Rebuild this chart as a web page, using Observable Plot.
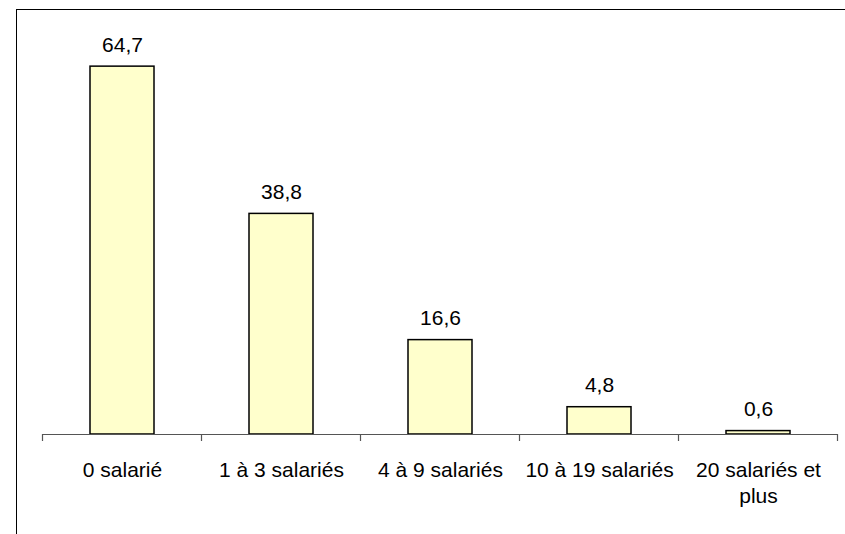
<!DOCTYPE html>
<html>
<head>
<meta charset="utf-8">
<script src="https://cdn.jsdelivr.net/npm/d3@7"></script>
<script src="https://cdn.jsdelivr.net/npm/@observablehq/plot@0.6"></script>
<style>
  html, body { margin: 0; padding: 0; background: #fff; overflow: hidden; }
  #wrap { position: relative; width: 845px; height: 534px; }
  #frame { position: absolute; left: 16px; top: 9px; width: 900px; height: 600px;
           border-left: 1.5px solid #000; border-top: 1.5px solid #000; box-sizing: border-box; }
  #chart { position: absolute; left: 0; top: 0; }
</style>
</head>
<body>
<div id="wrap"><div id="frame"></div><div id="chart"></div></div>
<script>
const categories = ["0 salarié", "1 à 3 salariés", "4 à 9 salariés", "10 à 19 salariés", "20 salariés et plus"];
const axisLabels = ["0 salarié", "1 à 3 salariés", "4 à 9 salariés", "10 à 19 salariés", "20 salariés et\nplus"];
const values = [64.7, 38.8, 16.6, 4.8, 0.6];
const valueLabels = ["64,7", "38,8", "16,6", "4,8", "0,6"];

const data = categories.map((c, i) => ({cat: c, value: values[i], label: valueLabels[i], axis: axisLabels[i]}));

const font = "Liberation Sans, Arial, sans-serif";

const boundaryTicks = (index, scales, values, dimensions) => {
  const x = scales.x;
  const step = x.step ? x.step() : (x.bandwidth() / 0.4);
  const bw = x.bandwidth();
  const gap = (step - bw) / 2;
  const y0 = dimensions.height - dimensions.marginBottom;
  const g = d3.create("svg:g");
  const xs = categories.map(c => x(c) - gap);
  xs.push(x(categories[categories.length - 1]) + bw + gap);
  for (const xv of xs) {
    g.append("line").attr("x1", xv).attr("x2", xv).attr("y1", y0).attr("y2", y0 + 7)
      .attr("stroke", "#555").attr("stroke-width", 1.2);
  }
  return g.node();
};

const chart = Plot.plot({
  width: 845,
  height: 534,
  marginLeft: 42,
  marginRight: 7,
  marginTop: 36,
  marginBottom: 100,
  style: {fontFamily: font, background: "transparent", overflow: "visible"},
  x: {domain: categories, paddingInner: 0.6, paddingOuter: 0.3, axis: null},
  y: {domain: [0, 70], axis: null},
  marks: [
    Plot.barY(data, {x: "cat", y: "value", fill: "#FFFFCC", stroke: "#000", strokeWidth: 1.5}),
    Plot.ruleY([0], {stroke: "#555", strokeWidth: 1.2}),
    boundaryTicks,
    Plot.text(data, {x: "cat", y: "value", text: "label", dy: -15, lineAnchor: "bottom",
      fontSize: 21, fill: "#000", fontFamily: font}),
    Plot.text(data, {x: "cat", text: "axis", frameAnchor: "bottom", lineAnchor: "top", dy: 25,
      lineHeight: 1.2, fontSize: 21, fill: "#000", fontFamily: font})
  ]
});
document.getElementById("chart").appendChild(chart);
</script>
</body>
</html>
